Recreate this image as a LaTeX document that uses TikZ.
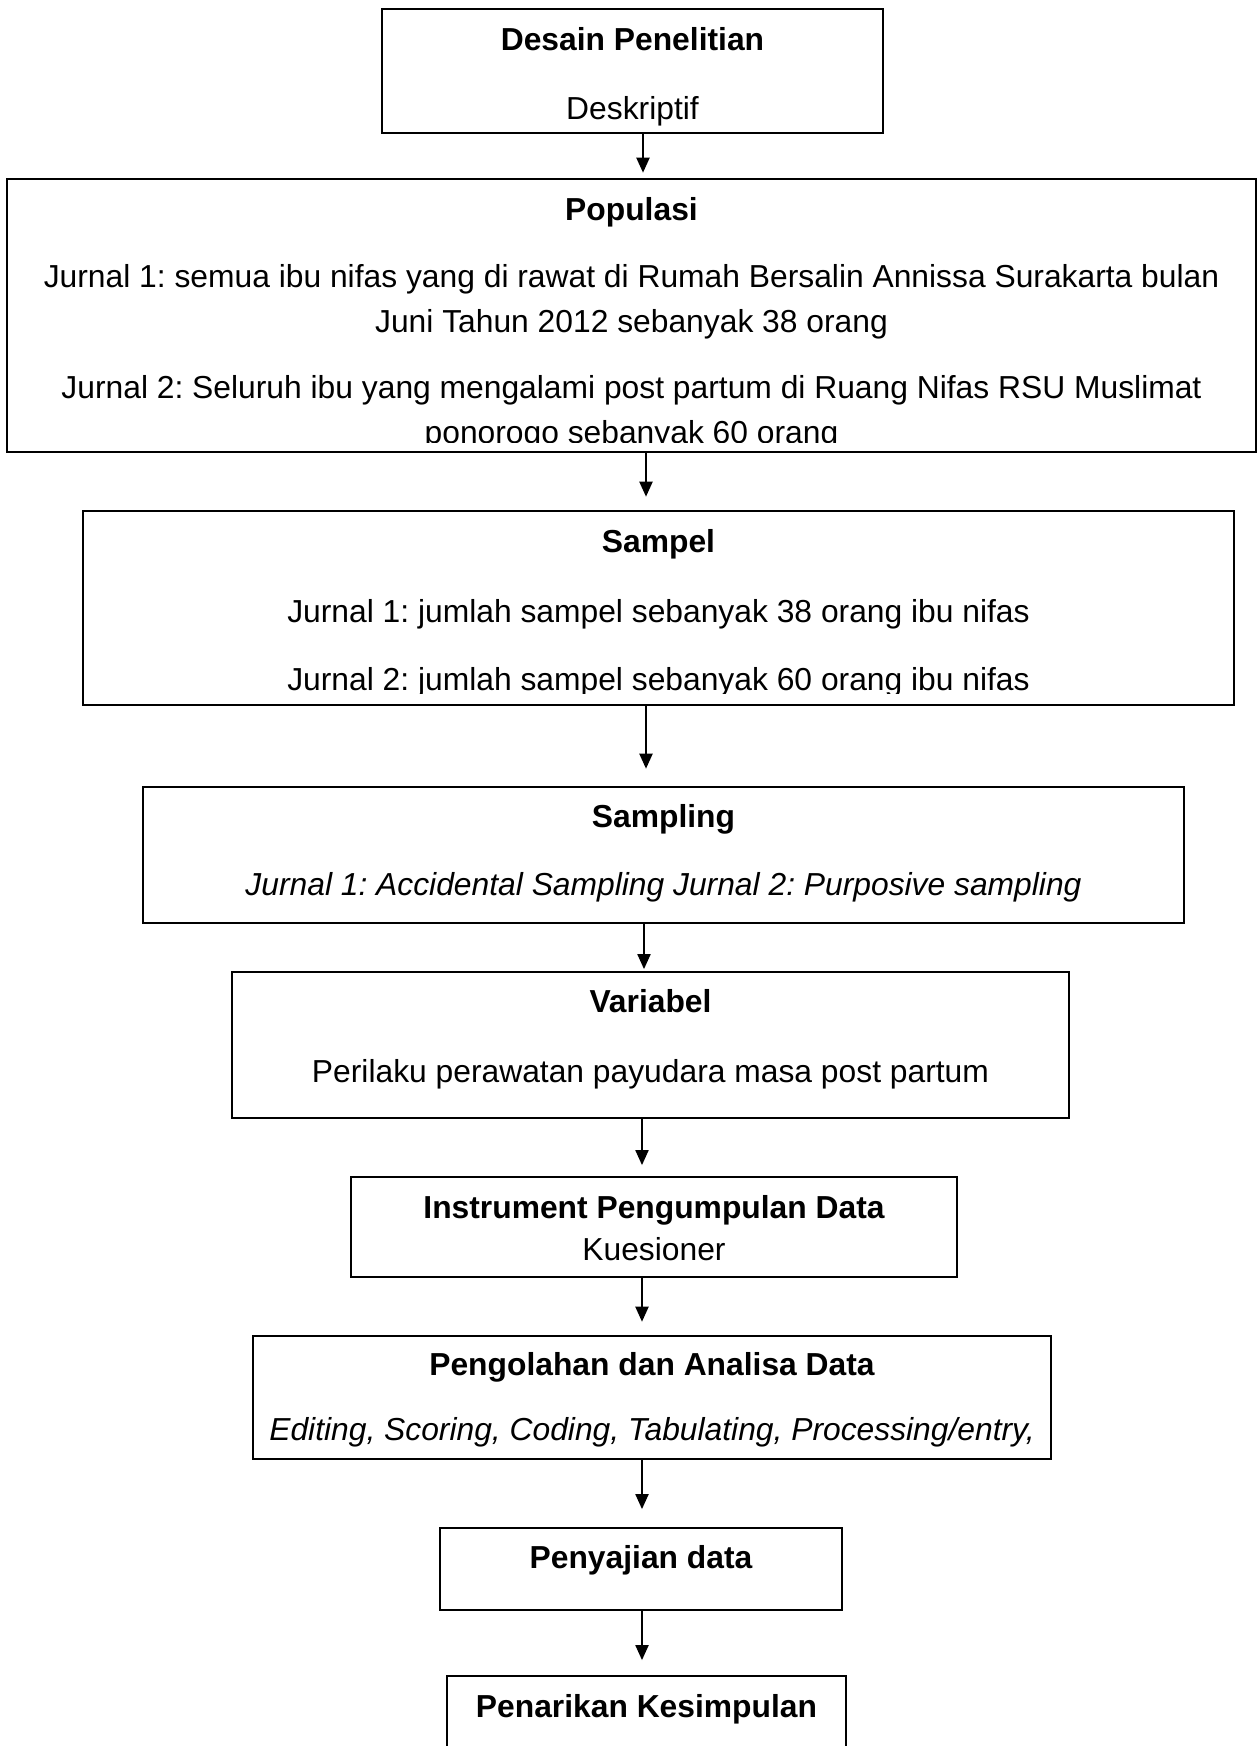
\documentclass[tikz,border=0pt]{standalone}
\usepackage{fontspec}
\setmainfont{Liberation Sans}
\usetikzlibrary{arrows.meta,fit}
\frenchspacing

\begin{document}
\begin{tikzpicture}[x=0.5pt,y=-0.5pt,
    kotak/.style={draw,line width=0.9pt,inner sep=0pt},
    tebal/.style={line width=1.3pt},
    judul/.style={anchor=base,font=\fontsize{15.9}{19}\selectfont\bfseries},
    isi/.style={anchor=base,font=\fontsize{15.9}{19}\selectfont},
    miring/.style={anchor=base,font=\fontsize{15.9}{19}\selectfont\itshape},
    panah/.style={line width=1pt,-{Triangle[length=7.5pt,width=6.5pt]}}]
  \clip (0,0) rectangle (1258,1746);
  % kotak-kotak alur
  \node[kotak,fit={(382,9) (883,133)}] (desain) {};
  \node[kotak,tebal,fit={(7,179) (1256,452)}] (populasi) {};
  \node[kotak,tebal,fit={(83,511) (1234,705)}] (sampel) {};
  \node[kotak,tebal,fit={(143,787) (1184,923)}] (sampling) {};
  \node[kotak,fit={(232,972) (1069,1118)}] (variabel) {};
  \node[kotak,fit={(351,1177) (957,1277)}] (instrumen) {};
  \node[kotak,tebal,fit={(253,1336) (1051,1459)}] (pengolahan) {};
  \node[kotak,fit={(440,1528) (842,1610)}] (penyajian) {};
  \node[kotak,fit={(447,1676) (846,1790)}] (penarikan) {};

  % teks
  \node[judul] (desain-j) at (632.5,50) {Desain Penelitian};
  \node[isi] (desain-i) at (632.5,119) {Deskriptif};

  \node[judul] (populasi-j) at (631.5,220) {Populasi};
  \begin{scope}
    \clip (7,179) rectangle (1256,442.5);
    \node[isi] (populasi-a) at (631.5,287) {Jurnal 1: semua ibu nifas yang di rawat di Rumah Bersalin Annissa Surakarta bulan};
    \node[isi] (populasi-b) at (631.5,332) {Juni Tahun 2012 sebanyak 38 orang};
    \node[isi] (populasi-c) at (631.5,398) {Jurnal 2: Seluruh ibu yang mengalami post partum di Ruang Nifas RSU Muslimat};
    \node[isi] (populasi-d) at (631.5,443.5) {ponorogo sebanyak 60 orang};
  \end{scope}

  \node[judul] (sampel-j) at (658.5,552) {Sampel};
  \begin{scope}
    \clip (83,511) rectangle (1234,693);
    \node[isi] (sampel-a) at (658.5,622) {Jurnal 1: jumlah sampel sebanyak 38 orang ibu nifas};
    \node[isi] (sampel-b) at (658.5,690) {Jurnal 2: jumlah sampel sebanyak 60 orang ibu nifas};
  \end{scope}

  \node[judul] (sampling-j) at (663.5,827) {Sampling};
  \node[miring] (sampling-i) at (663.5,895) {Jurnal 1: Accidental Sampling Jurnal 2: Purposive sampling};

  \node[judul] (variabel-j) at (650.5,1012) {Variabel};
  \node[isi] (variabel-i) at (650.5,1082) {Perilaku perawatan payudara masa post partum};

  \node[judul] (instrumen-j) at (654,1218) {Instrument Pengumpulan Data};
  \node[isi] (instrumen-i) at (654,1260) {Kuesioner};

  \node[judul] (pengolahan-j) at (652,1375) {Pengolahan dan Analisa Data};
  \node[miring] (pengolahan-i) at (652,1440) {Editing, Scoring, Coding, Tabulating, Processing/entry,};

  \node[judul] (penyajian-j) at (641,1568) {Penyajian data};

  \node[judul] (penarikan-j) at (646.5,1717) {Penarikan Kesimpulan};

  % panah
  \foreach \a/\b/\x/\g in {desain/populasi/643/2.5, populasi/sampel/646/6.5,
      sampel/sampling/646/8.5, sampling/variabel/644/1, variabel/instrumen/642/5.5,
      instrumen/pengolahan/642/6.5, pengolahan/penyajian/642/9, penyajian/penarikan/642/7.5}
  {
    \coordinate (ax) at (\x,0);
    \draw[panah,shorten >=\g pt] (\a.south -| ax) -- (\b.north -| ax);
  }
\end{tikzpicture}
\end{document}
